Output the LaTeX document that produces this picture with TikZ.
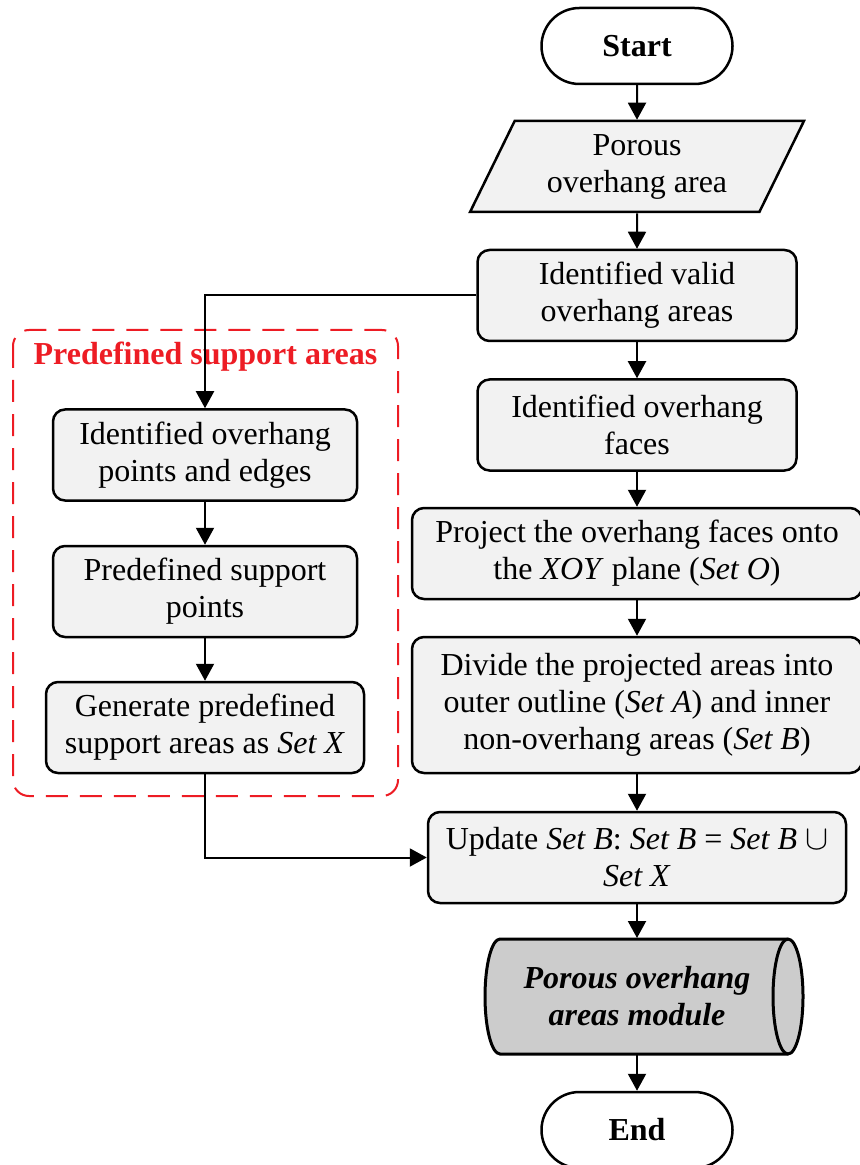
\documentclass[tikz,border=0pt]{standalone}
\usepackage{fontspec}
\setmainfont{Liberation Serif}
\usepackage{tikz}
\usetikzlibrary{arrows.meta,positioning,shapes.geometric,calc}
\definecolor{boxgray}{RGB}{242,242,242}
\definecolor{modgray}{RGB}{204,204,204}
\definecolor{frred}{RGB}{237,28,36}
\newcommand{\SetOf}[1]{\textit{Set #1}}

\begin{document}
\begin{tikzpicture}[x=0.5pt,y=-0.5pt,>={Triangle[length=8.5pt,width=9pt]},line width=1pt,
  font=\fontsize{16}{18.5}\selectfont,
  proc/.style={draw,line width=1.25pt,fill=boxgray,rounded corners=6pt,align=center,inner sep=1pt,minimum height=45.5pt},
  term/.style={draw,line width=1.25pt,rounded corners=19pt,minimum width=95.5pt,minimum height=38pt,font=\fontsize{16}{18.5}\selectfont\bfseries},
  io/.style={draw,line width=1.25pt,fill=boxgray,trapezium,trapezium left angle=64,trapezium right angle=116,trapezium stretches=true,minimum width=167pt,minimum height=45.5pt,align=center,inner sep=1pt}]
  \useasboundingbox (0,0) rectangle (860,1165);
  \draw[frred,dash pattern=on 11pt off 6pt,rounded corners=8pt] (13,330) rectangle (398,796);
  \node[text=frred,font=\fontsize{16}{18.5}\selectfont\bfseries] (frtitle) at (205.5,357) {Predefined support areas};

  \node[term] (start) at (637,46) {Start};
  \node[io] (input) at (637,166.5) {Porous\\overhang area};
  \node[proc,minimum width=159.5pt] (valid) at (637,295.5) {Identified valid\\overhang areas};
  \node[proc,minimum width=159.5pt] (faces) at (637,425) {Identified overhang\\faces};
  \node[proc,minimum width=225pt] (project) at (637,553.5) {Project the overhang faces onto\\the \textit{XOY} plane (\SetOf{O})};
  \node[proc,minimum width=225pt,minimum height=68pt] (divide) at (637,705) {Divide the projected areas into\\outer outline (\SetOf{A}) and inner\\non-overhang areas (\SetOf{B})};
  \node[proc,minimum width=209pt] (update) at (637,857.5) {Update \SetOf{B}: \SetOf{B} = \SetOf{B} $\cup$\\\SetOf{X}};
  \draw[fill=modgray,line width=1.5pt] (500,939) -- (788,939) arc[start angle=90,end angle=-90,x radius=7.5pt,y radius=28.75pt]
    -- (500,1054) arc[start angle=270,end angle=90,x radius=7.5pt,y radius=28.75pt] -- cycle;
  \draw[line width=1.5pt] (788,939) arc[start angle=90,end angle=270,x radius=7.5pt,y radius=28.75pt];
  \node[font=\fontsize{16}{18.5}\selectfont\bfseries\itshape,align=center,minimum height=57.5pt] (module) at (637,996.5) {Porous overhang\\areas module};
  \node[term] (end) at (637,1130) {End};

  \node[proc,minimum width=152pt] (lpts) at (205,455) {Identified overhang\\points and edges};
  \node[proc,minimum width=152pt] (lsup) at (205,591.5) {Predefined support\\points};
  \node[proc,minimum width=159pt] (lgen) at (205,727.5) {Generate predefined\\support areas as \SetOf{X}};

  \foreach \a/\b in {start/input,input/valid,valid/faces,faces/project,project/divide,divide/update,update/module,module/end,lpts/lsup,lsup/lgen}
    \draw[->] (\a) -- (\b);
  \draw[->] (valid.west) -| (lpts.north);
  \draw[->] (lgen.south) |- (update.west);
\end{tikzpicture}
\end{document}
